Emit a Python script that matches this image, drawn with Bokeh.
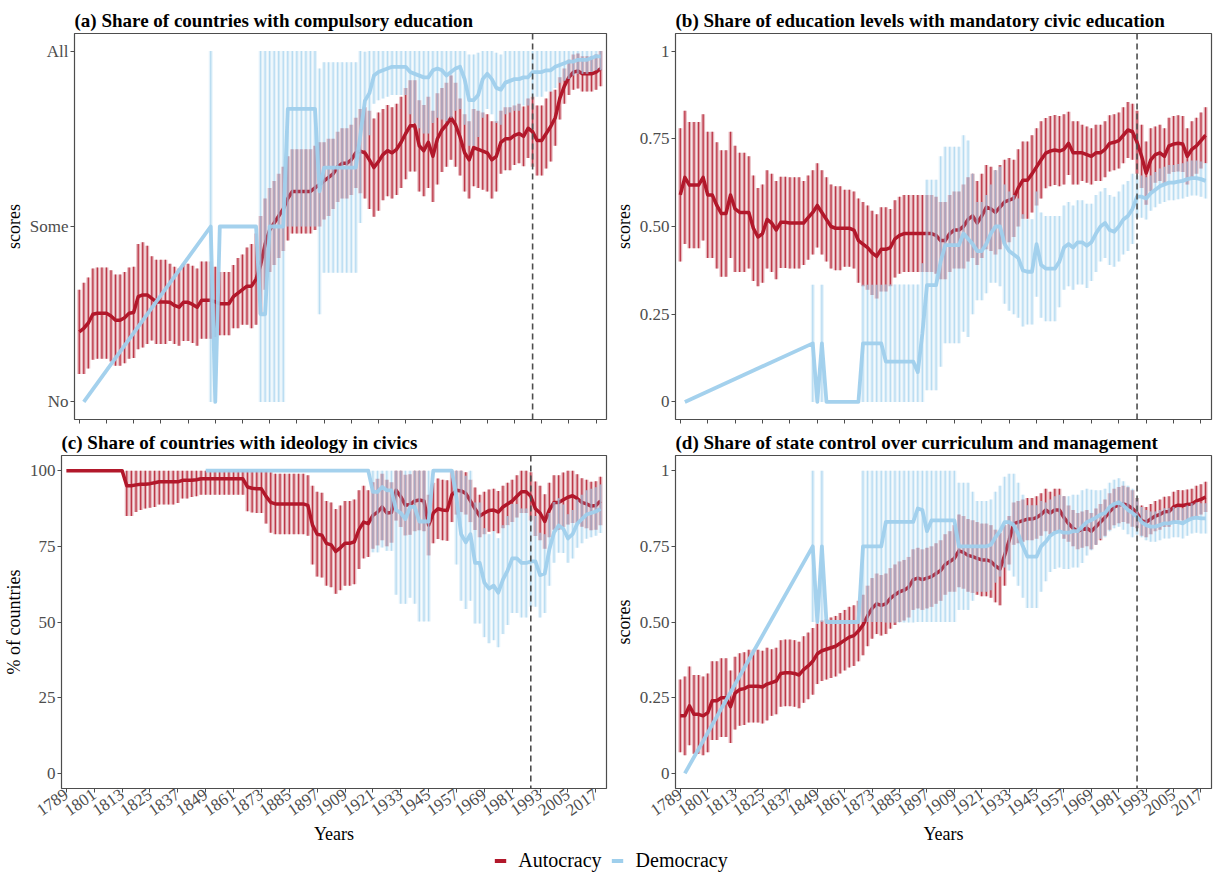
import math

from bokeh.embed import file_html
from bokeh.layouts import column, row
from bokeh.models import FixedTicker, Legend, LegendItem, Range1d, Span
from bokeh.plotting import figure
from bokeh.resources import INLINE

nan = float("nan")

# Observation years (every second year)
years = list(range(1789, 2020, 2))
x_ticks = list(range(1789, 2018, 12))
cutoff_year = 1989

# (a) compulsory education: score 0 = No, 0.5 = Some, 1 = All
a_auto = [
    .200, .210, .225, .250, .253, .253, .253, .245, .233, .233,
    .240, .253, .255, .300, .305, .305, .295, .285, .285, .285,
    .284, .275, .270, .284, .284, .278, .270, .290, .290, .290,
    .285, .280, .280, .280, .300, .310, .320, .330, .330, .350,
    .390, .450, .490, .510, .530, .550, .580, .600, .600, .600,
    .600, .600, .610, .620, .630, .640, .650, .670, .680, .680,
    .690, .710, .715, .710, .690, .668, .685, .705, .716, .710,
    .720, .740, .765, .787, .787, .730, .716, .740, .700, .750,
    .775, .790, .810, .790, .755, .710, .690, .725, .720, .715,
    .710, .690, .700, .740, .750, .750, .760, .765, .757, .780,
    .770, .745, .745, .765, .785, .810, .865, .900, .925, .940,
    .943, .935, .935, .935, .940, .950]
a_auto_err = [
    .12, .13, .13, .13, .13, .13, .13, .13, .13, .13,
    .13, .13, .13, .15, .15, .14, .12, .12, .12, .12,
    .11, .11, .11, .11, .11, .11, .11, .11, .11, .11,
    .10, .09, .09, .09, .09, .10, .10, .11, .12, .13,
    .14, .13, .12, .12, .12, .12, .12, .12, .12, .12,
    .12, .12, .12, .12, .11, .11, .10, .10, .10, .10,
    .10, .10, .12, .13, .14, .14, .14, .13, .13, .13,
    .13, .13, .13, .13, .13, .13, .13, .13, .13, .13,
    .12, .12, .12, .12, .11, .11, .11, .11, .11, .11,
    .11, .11, .10, .09, .09, .09, .085, .085, .085, .085,
    .10, .10, .10, .10, .10, .08, .06, .05, .05, .05,
    .05, .05, .05, .05, .05, .05]
a_demo = [
    nan, 0.0, nan, nan, nan, nan, nan, nan, nan, nan,
    nan, nan, nan, nan, nan, nan, nan, nan, nan, nan,
    nan, nan, nan, nan, nan, nan, nan, nan, nan, 0.5,
    0.0, 0.5, 0.5, 0.5, 0.5, 0.5, 0.5, 0.5, 0.5, 0.5,
    0.25, 0.25, 0.5, 0.5, 0.5, 0.5, 0.835, 0.835, 0.835, 0.835,
    0.835, 0.835, 0.835, 0.60, 0.668, 0.668, 0.668, 0.668, 0.668, 0.668,
    0.668, 0.668, 0.76, 0.858, 0.88, 0.93, 0.94, 0.945, 0.95, 0.955,
    0.955, 0.955, 0.955, 0.94, 0.935, 0.93, 0.925, 0.925, 0.945, 0.95,
    0.945, 0.93, 0.94, 0.95, 0.955, 0.92, 0.86, 0.86, 0.875, 0.92,
    0.935, 0.92, 0.895, 0.89, 0.91, 0.915, 0.92, 0.92, 0.925, 0.925,
    0.94, 0.94, 0.94, 0.945, 0.945, 0.955, 0.96, 0.965, 0.97, 0.97,
    0.975, 0.975, 0.975, 0.98, 0.985, 0.985]
a_demo_err = [
    0, 0, 0, 0, 0, 0, 0, 0, 0, 0,
    0, 0, 0, 0, 0, 0, 0, 0, 0, 0,
    0, 0, 0, 0, 0, 0, 0, 0, 0, .5,
    0, 0, 0, 0, 0, 0, 0, 0, 0, 0,
    .75, .75, .5, .5, .5, .5, .335, .335, .335, .335,
    .335, .335, .335, .35, .30, .30, .30, .30, .30, .30,
    .30, .30, .25, .14, .12, .08, .08, .08, .08, .08,
    .08, .08, .08, .12, .14, .15, .16, .16, .15, .14,
    .14, .13, .13, .12, .12, .13, .13, .13, .12, .11,
    .10, .10, .10, .10, .09, .09, .09, .09, .08, .08,
    .07, .07, .07, .06, .06, .06, .05, .05, .05, .04,
    .04, .04, .04, .04, .04, .04]

# (b) mandatory civic education (share of education levels)
b_auto = [
    .590, .640, .618, .618, .618, .640, .590, .590, .560, .537,
    .537, .590, .550, .540, .540, .540, .495, .470, .480, .520,
    .510, .490, .512, .512, .510, .510, .510, .510, .525, .540,
    .560, .540, .520, .500, .495, .495, .495, .495, .490, .460,
    .450, .440, .425, .415, .435, .435, .440, .465, .475, .480,
    .480, .480, .480, .480, .480, .480, .475, .460, .460, .480,
    .490, .490, .500, .520, .530, .510, .530, .555, .550, .540,
    .555, .570, .575, .580, .610, .632, .632, .650, .670, .690,
    .709, .715, .718, .715, .720, .737, .710, .710, .710, .705,
    .700, .710, .710, .720, .737, .740, .745, .760, .775, .770,
    .740, .700, .652, .690, .705, .710, .700, .730, .735, .737,
    .735, .700, .720, .730, .745, .760]
b_auto_err = [
    .19, .19, .18, .18, .18, .18, .18, .18, .18, .18,
    .18, .18, .18, .17, .17, .16, .15, .14, .14, .14,
    .14, .14, .13, .13, .13, .13, .13, .12, .12, .12,
    .12, .12, .12, .12, .12, .12, .11, .11, .11, .12,
    .12, .12, .12, .12, .12, .12, .11, .11, .11, .11,
    .11, .11, .11, .11, .11, .11, .11, .11, .11, .11,
    .11, .11, .12, .12, .12, .12, .12, .12, .12, .12,
    .12, .12, .12, .11, .11, .11, .11, .11, .11, .11,
    .10, .10, .10, .10, .10, .09, .09, .09, .08, .08,
    .08, .08, .08, .08, .08, .08, .08, .08, .08, .08,
    .09, .09, .09, .09, .08, .08, .08, .08, .08, .08,
    .08, .08, .08, .08, .08, .08]
b_demo = [
    nan, 0.0, nan, nan, nan, nan, nan, nan, nan, nan,
    nan, nan, nan, nan, nan, nan, nan, nan, nan, nan,
    nan, nan, nan, nan, nan, nan, nan, nan, nan, .167,
    0.0, .167, 0.0, 0.0, 0.0, 0.0, 0.0, 0.0, 0.0, 0.0,
    .167, .167, .167, .167, .167, .115, .115, .115, .115, .115,
    .115, .115, .085, .195, .333, .333, .333, .400, .447, .447,
    .447, .447, .480, .465, .450, .430, .430, .450, .480, .500,
    .500, .450, .430, .420, .410, .375, .371, .371, .450, .390,
    .380, .380, .380, .400, .440, .450, .440, .455, .455, .445,
    .455, .480, .500, .510, .490, .485, .500, .520, .530, .550,
    .585, .585, .580, .595, .605, .615, .620, .625, .625, .628,
    .630, .635, .638, .638, .635, .630]
b_demo_err = [
    0, 0, 0, 0, 0, 0, 0, 0, 0, 0,
    0, 0, 0, 0, 0, 0, 0, 0, 0, 0,
    0, 0, 0, 0, 0, 0, 0, 0, 0, .167,
    0, .167, 0, 0, 0, 0, 0, 0, 0, 0,
    .167, .167, .167, .167, .167, .22, .22, .22, .22, .22,
    .22, .22, .25, .20, .30, .30, .30, .30, .28, .28,
    .28, .28, .28, .28, .20, .14, .14, .14, .14, .16,
    .17, .17, .17, .17, .17, .16, .15, .15, .15, .15,
    .15, .15, .15, .13, .12, .12, .12, .12, .12, .12,
    .11, .11, .10, .10, .10, .10, .10, .10, .10, .10,
    .06, .06, .06, .05, .05, .05, .05, .05, .05, .05,
    .05, .05, .05, .05, .05, .05]

# (c) ideology in civics (% of countries)
c_auto = [
    100, 100, 100, 100, 100, 100, 100, 100, 100, 100,
    100, 100, 100, 95, 95, 95.3, 95.5, 95.5, 95.7, 96,
    96.3, 96.3, 96.3, 96.3, 96.3, 96.8, 96.8, 96.8, 97, 97.3,
    97.3, 97.3, 97.3, 97.3, 97.3, 97.3, 97.3, 97.3, 97.3, 94.6,
    94.2, 94, 94, 91.5, 89.5, 89, 89, 89, 89, 89,
    89, 89, 88.5, 82, 79, 78.7, 76, 75.5, 73.3, 74.5,
    76, 76, 76.5, 80.5, 83, 82.5, 85.2, 86.3, 88, 86,
    86.2, 93.5, 91.4, 88.6, 88.8, 90, 90.3, 90, 82, 86,
    87.4, 87, 86.8, 92, 93.5, 93.3, 92.5, 90, 87.4, 85,
    86, 86.8, 87, 86.3, 88, 89, 90, 91.5, 93, 93,
    91.5, 87.4, 86, 83.2, 87, 89.5, 89.5, 90.4, 91.2, 91.7,
    90.8, 89.5, 89, 88.3, 88.5, 90]
c_auto_err = [
    0, 0, 0, 0, 0, 0, 0, 0, 0, 0,
    0, 0, 0, 10, 10, 9, 8.5, 8, 8, 8,
    7.5, 7.5, 7.5, 7.5, 7, 6, 6, 5.5, 5.5, 5.3,
    5.3, 5.3, 5.3, 5.3, 5.3, 5.3, 5.3, 5.3, 5.3, 8,
    8, 8, 8, 9, 10, 10, 10, 10, 10, 10,
    10, 10, 10, 13, 14, 14, 14, 14, 14, 14,
    14, 14, 14, 13, 12, 11, 11, 11, 11, 11,
    10, 10, 10, 10, 10, 10, 10, 10, 10, 10,
    10, 10, 10, 9, 8, 7, 7, 7, 7, 7,
    7, 7, 7, 7, 7, 7, 7, 7, 7, 7,
    8, 9, 9, 9, 9, 9, 9, 9, 9, 9,
    8, 8, 8, 8, 8, 8]
c_demo = [
    nan, nan, nan, nan, nan, nan, nan, nan, nan, nan,
    nan, nan, nan, nan, nan, nan, nan, nan, nan, nan,
    nan, nan, nan, nan, nan, nan, nan, nan, nan, nan,
    100, 100, 100, 100, 100, 100, 100, 100, 100, 100,
    100, 100, 100, 100, 100, 100, 100, 100, 100, 100,
    100, 100, 100, 100, 100, 100, 100, 100, 100, 100,
    100, 100, 100, 100, 100, 100, 93, 93, 94.6, 93.5,
    93.5, 87, 86, 84, 88, 88, 83.2, 83.2, 83.2, 100,
    100, 100, 100, 100, 91, 79, 76.3, 79, 69.5, 69.5,
    63, 61, 62, 59.7, 64, 67, 71, 71, 69.5, 69.5,
    70, 70, 65.5, 66, 74, 79.6, 81.9, 80.8, 77.6, 79,
    82.5, 84, 85.5, 86, 86.5, 87.4]
c_demo_err = [
    0, 0, 0, 0, 0, 0, 0, 0, 0, 0,
    0, 0, 0, 0, 0, 0, 0, 0, 0, 0,
    0, 0, 0, 0, 0, 0, 0, 0, 0, 0,
    0, 0, 0, 0, 0, 0, 0, 0, 0, 0,
    0, 0, 0, 0, 0, 0, 0, 0, 0, 0,
    0, 0, 0, 0, 0, 0, 0, 0, 0, 0,
    0, 0, 0, 0, 0, 0, 20, 20, 20, 20,
    20, 28, 30, 28, 30, 32, 33, 33, 33, 0,
    0, 0, 0, 0, 22, 22, 22, 22, 20, 20,
    18, 18, 18, 18, 18, 18, 18, 18, 18, 18,
    15, 15, 14, 13, 12, 10, 9, 8, 8, 8,
    8, 8, 8, 8, 8, 8]

# (d) state control over curriculum and management
d_auto = [
    .190, .190, .223, .195, .195, .190, .200, .240, .240, .250,
    .250, .220, .265, .277, .280, .288, .288, .288, .285, .295,
    .300, .305, .330, .332, .332, .330, .325, .343, .355, .370,
    .395, .405, .410, .415, .420, .430, .440, .450, .455, .470,
    .490, .520, .545, .560, .555, .560, .578, .590, .600, .605,
    .615, .640, .645, .640, .645, .650, .660, .670, .690, .700,
    .710, .735, .730, .720, .716, .710, .705, .705, .700, .685,
    .675, .720, .770, .825, .830, .835, .840, .840, .845, .855,
    .870, .860, .870, .870, .845, .825, .810, .800, .805, .810,
    .800, .815, .830, .845, .865, .880, .886, .890, .885, .875,
    .860, .835, .830, .840, .850, .855, .864, .865, .880, .886,
    .885, .888, .890, .900, .905, .913]
d_auto_err = [
    .12, .13, .13, .13, .13, .13, .13, .13, .13, .13,
    .13, .12, .12, .12, .12, .12, .12, .12, .12, .12,
    .11, .11, .11, .11, .11, .11, .11, .11, .11, .11,
    .10, .10, .10, .10, .10, .10, .10, .10, .10, .10,
    .10, .10, .10, .10, .10, .10, .10, .10, .10, .10,
    .10, .10, .10, .10, .10, .10, .10, .10, .10, .10,
    .11, .12, .12, .12, .12, .12, .12, .12, .12, .12,
    .12, .10, .08, .07, .07, .07, .07, .07, .07, .07,
    .07, .07, .07, .07, .07, .06, .06, .06, .06, .06,
    .06, .06, .06, .06, .06, .06, .06, .06, .06, .06,
    .05, .05, .05, .05, .05, .05, .05, .05, .05, .05,
    .05, .05, .05, .05, .05, .05]
d_demo = [
    nan, 0.0, nan, nan, nan, nan, nan, nan, nan, nan,
    nan, nan, nan, nan, nan, nan, nan, nan, nan, nan,
    nan, nan, nan, nan, nan, nan, nan, nan, nan, .75,
    .5, .75, .5, .5, .5, .5, .5, .5, .5, .5,
    .75, .75, .75, .75, .75, .831, .831, .831, .831, .831,
    .831, .831, .875, .870, .800, .836, .836, .836, .836, .836,
    .836, .750, .750, .750, .750, .750, .750, .750, .755, .780,
    .800, .830, .830, .820, .790, .750, .716, .716, .716, .750,
    .765, .785, .795, .800, .795, .795, .800, .800, .815, .830,
    .837, .845, .855, .860, .880, .890, .895, .885, .870, .860,
    .848, .830, .820, .815, .815, .820, .826, .826, .830, .830,
    .826, .835, .842, .845, .842, .842]
d_demo_err = [
    0, 0, 0, 0, 0, 0, 0, 0, 0, 0,
    0, 0, 0, 0, 0, 0, 0, 0, 0, 0,
    0, 0, 0, 0, 0, 0, 0, 0, 0, .25,
    0, .25, 0, 0, 0, 0, 0, 0, 0, 0,
    .25, .25, .25, .25, .25, .333, .333, .333, .333, .333,
    .333, .333, .375, .37, .30, .336, .336, .336, .336, .336,
    .336, .21, .21, .21, .18, .15, .15, .15, .15, .15,
    .15, .15, .16, .17, .17, .17, .17, .17, .17, .15,
    .13, .12, .12, .12, .12, .12, .12, .12, .12, .11,
    .10, .09, .08, .08, .08, .08, .08, .08, .08, .08,
    .06, .05, .05, .05, .05, .05, .05, .05, .05, .05,
    .05, .05, .05, .05, .05, .05]

RED = "#B2182B"
BLUE = "#9FCFEC"
GREY = "#4d4d4d"
SERIF = "Liberation Serif"
X_RANGE = (1786.9, 2021.6)


def make_panel(title, width, height, borders, y_range, y_ticks, y_labels, y_title, x_labels):
    left, right, top, bottom = borders
    p = figure(width=width, height=height, title=title,
               x_range=Range1d(*X_RANGE), y_range=Range1d(*y_range),
               output_backend="svg", toolbar_location=None,
               min_border_left=left, min_border_right=right,
               min_border_top=top, min_border_bottom=bottom)
    p.title.text_font = SERIF
    p.title.text_font_style = "bold"
    p.title.text_font_size = "19px"
    p.title.text_color = "black"
    p.title.align = "left"
    p.title.standoff = 5
    p.grid.visible = False
    p.outline_line_color = GREY
    p.outline_line_width = 1.2
    p.background_fill_color = "white"
    p.border_fill_color = "white"

    for ax in (p.xaxis[0], p.yaxis[0]):
        ax.axis_line_color = None
        ax.minor_tick_line_color = None
        ax.major_tick_line_color = GREY
        ax.major_tick_out = 4
        ax.major_tick_in = 0
        ax.major_label_text_font = SERIF
        ax.major_label_text_font_size = "17px"
        ax.major_label_text_color = GREY
        ax.major_label_standoff = 2
        ax.axis_label_text_font = SERIF
        ax.axis_label_text_font_size = "18px"
        ax.axis_label_text_font_style = "normal"
        ax.axis_label_text_color = "black"
        ax.axis_label_standoff = 3

    p.xaxis.ticker = FixedTicker(ticks=x_ticks)
    if x_labels:
        p.xaxis.major_label_orientation = math.radians(35)
        p.xaxis.major_label_standoff = 0
        p.xaxis.axis_label_standoff = 0
        p.xaxis.axis_label = "Years"
    else:
        p.xaxis.major_label_overrides = {t: "" for t in x_ticks}
        p.xaxis.major_label_text_font_size = "1px"
    p.yaxis.ticker = FixedTicker(ticks=y_ticks)
    p.yaxis.major_label_overrides = dict(zip(y_ticks, y_labels))
    p.yaxis.axis_label = y_title
    return p


def add_bars(p, mean, err, limits, color, line_alpha, band_alpha):
    lo_lim, hi_lim = limits
    xs, lo, hi = [], [], []
    for yr, m, e in zip(years, mean, err):
        if m == m and e > 0:
            xs.append(yr)
            lo.append(max(m - e, lo_lim))
            hi.append(min(m + e, hi_lim))
    p.vbar(x=xs, bottom=lo, top=hi, width=1.7, fill_color=color,
           fill_alpha=band_alpha, line_color=None)
    p.segment(x0=xs, y0=lo, x1=xs, y1=hi, line_color=color,
              line_alpha=line_alpha, line_width=1.3)


def add_line(p, mean, color, width, alpha):
    xs = [yr for yr, m in zip(years, mean) if m == m]
    ys = [m for m in mean if m == m]
    p.line(xs, ys, line_color=color, line_width=width, line_alpha=alpha,
           line_join="round")


def draw(p, auto, auto_err, demo, demo_err, limits):
    add_bars(p, auto, auto_err, limits, RED, 0.8, 0.32)
    add_line(p, auto, RED, 3.5, 1.0)
    add_bars(p, demo, demo_err, limits, BLUE, 0.65, 0.28)
    add_line(p, demo, BLUE, 3.8, 0.95)
    p.add_layout(Span(location=cutoff_year, dimension="height", line_color=GREY,
                      line_dash="6 4", line_width=1.6))


share_ticks = [0, 0.25, 0.5, 0.75, 1]
share_labels = ["0", "0.25", "0.50", "0.75", "1"]

pa = make_panel("(a) Share of countries with compulsory education", 610, 427,
                (73, 4, 33, 8), (-0.05, 1.05), [0, 0.5, 1], ["No", "Some", "All"],
                "scores", False)
draw(pa, a_auto, a_auto_err, a_demo, a_demo_err, (0, 1))

pb = make_panel("(b) Share of education levels with mandatory civic education", 612, 427,
                (59, 11, 33, 8), (-0.05, 1.05), share_ticks, share_labels,
                "scores", False)
draw(pb, b_auto, b_auto_err, b_demo, b_demo_err, (0, 1))

pc = make_panel("(c) Share of countries with ideology in civics", 610, 420,
                (59, 4, 25, 54), (-5, 105), [0, 25, 50, 75, 100],
                ["0", "25", "50", "75", "100"], "% of countries", True)
draw(pc, c_auto, c_auto_err, c_demo, c_demo_err, (0, 100))

pd_ = make_panel("(d) Share of state control over curriculum and management", 612, 420,
                 (59, 11, 25, 54), (-0.05, 1.05), share_ticks, share_labels,
                 "scores", True)
draw(pd_, d_auto, d_auto_err, d_demo, d_demo_err, (0, 1))

# Shared legend strip; its two key renderers sit outside the visible range
leg = figure(width=1222, height=26, x_range=Range1d(0, 1), y_range=Range1d(0, 1),
             output_backend="svg", toolbar_location=None,
             x_axis_type=None, y_axis_type=None, min_border=0)
leg.outline_line_color = None
leg.grid.visible = False
r_auto = leg.line(x=[-2, -1], y=[-2, -1], line_color=RED, line_width=4)
r_demo = leg.line(x=[-2, -1], y=[-2, -1], line_color=BLUE, line_width=4)
legend = Legend(items=[LegendItem(label="Autocracy", renderers=[r_auto]),
                       LegendItem(label="Democracy", renderers=[r_demo])],
                orientation="horizontal", location="center",
                label_text_font=SERIF, label_text_font_size="20px",
                label_text_color="black", glyph_width=12, glyph_height=12,
                label_standoff=12, spacing=10, padding=0, margin=0,
                border_line_color=None, background_fill_alpha=0)
leg.add_layout(legend, "center")

layout = column(row(pa, pb), row(pc, pd_), leg)

with open("out.html", "w") as f:
    f.write(file_html(layout, INLINE))
